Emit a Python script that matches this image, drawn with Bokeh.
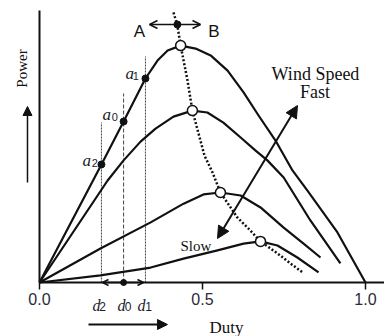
import math
from bokeh.plotting import figure
from bokeh.models import (Range1d, LinearAxis, FixedTicker, NumeralTickFormatter,
                          Arrow, NormalHead, OpenHead)
from bokeh.core.properties import value
from bokeh.embed import file_html
from bokeh.resources import INLINE

# ---------------- data ----------------
x_ticks = [0.0, 0.5, 1.0]

# power curves (duty, power) for four wind speeds, fast -> slow
fast_duty = [0.0, 0.095, 0.190, 0.258, 0.325, 0.362, 0.393, 0.433, 0.479, 0.525,
             0.577, 0.626, 0.672, 0.724, 0.776, 0.822, 0.914, 1.0]
fast_power = [0.0, 0.217, 0.434, 0.592, 0.750, 0.816, 0.853, 0.871, 0.860, 0.835,
              0.779, 0.699, 0.614, 0.522, 0.412, 0.338, 0.184, 0.0]

mid1_duty = [0.0, 0.209, 0.258, 0.310, 0.356, 0.411, 0.469, 0.515, 0.564, 0.617,
             0.663, 0.699, 0.749, 0.831, 0.923]
mid1_power = [0.0, 0.375, 0.449, 0.518, 0.566, 0.610, 0.632, 0.625, 0.588, 0.533,
              0.485, 0.449, 0.386, 0.228, 0.070]

mid2_duty = [0.0, 0.187, 0.341, 0.442, 0.503, 0.555, 0.617, 0.678, 0.749, 0.810, 0.862]
mid2_power = [0.0, 0.125, 0.221, 0.290, 0.324, 0.331, 0.320, 0.276, 0.202, 0.143, 0.092]

slow_duty = [0.0, 0.187, 0.341, 0.442, 0.546, 0.626, 0.678, 0.730, 0.791, 0.856]
slow_power = [0.0, 0.026, 0.055, 0.088, 0.118, 0.143, 0.151, 0.136, 0.092, 0.037]

# maximum power points
mpp_duty = [0.433, 0.469, 0.555, 0.678]
mpp_power = [0.871, 0.632, 0.331, 0.151]

# maximum power point locus (dotted)
locus_duty = [0.411, 0.423, 0.433, 0.454, 0.469, 0.506, 0.531, 0.555, 0.607,
              0.647, 0.678, 0.730, 0.770, 0.807]
locus_power = [0.993, 0.945, 0.871, 0.743, 0.632, 0.467, 0.404, 0.331, 0.239,
               0.191, 0.151, 0.107, 0.070, 0.037]

# operating points a2, a0, a1 at duties d2, d0, d1
op_names = ["2", "0", "1"]
op_duty = [0.190, 0.258, 0.325]
op_power = [0.434, 0.592, 0.750]
guide_top = [0.588, 0.695, 0.831]

# ---------------- figure ----------------
W, H = 384, 336
p = figure(width=W, height=H, output_backend="svg", toolbar_location=None,
           x_range=Range1d(-0.1196, 1.0583), y_range=Range1d(-0.1985, 1.0368),
           x_axis_type=None, y_axis_type=None, min_border=0,
           outline_line_color=None, background_fill_color="white")

INK = "#111111"
LBL = "#1c1c2c"
SERIF = value("Liberation Serif")
SANS = value("Liberation Sans")

xaxis = LinearAxis(fixed_location=0, bounds=(0, 1.0583),
                   ticker=FixedTicker(ticks=x_ticks),
                   formatter=NumeralTickFormatter(format="0.0"))
xaxis.axis_line_width = 2
xaxis.axis_line_color = INK
xaxis.major_tick_out = 7
xaxis.major_tick_in = 0
xaxis.major_tick_line_width = 1.5
xaxis.major_tick_line_color = INK
xaxis.minor_tick_line_color = None
xaxis.major_label_text_font = "Liberation Sans"
xaxis.major_label_text_font_size = "16px"
xaxis.major_label_text_color = "#2a2a3a"
xaxis.major_label_standoff = 3
p.add_layout(xaxis, "below")

yaxis = LinearAxis(fixed_location=0, bounds=(0, 1.0),
                   ticker=FixedTicker(ticks=[]))
yaxis.axis_line_width = 2
yaxis.axis_line_color = INK
yaxis.major_tick_line_color = None
yaxis.minor_tick_line_color = None
yaxis.major_label_text_font_size = "0px"
p.add_layout(yaxis, "left")

# guide lines at d2, d0, d1
dashes = ["2 1", "4 2", "2 1"]
for d, top, dash in zip(op_duty, guide_top, dashes):
    p.segment(x0=[d], y0=[0], x1=[d], y1=[top], line_color="#444444",
              line_width=1, line_dash=dash)

# power curves
for xs, ys in [(fast_duty, fast_power), (mid1_duty, mid1_power),
               (mid2_duty, mid2_power), (slow_duty, slow_power)]:
    p.line(xs, ys, line_color=INK, line_width=2.2, line_join="round")

# MPP locus
p.line(locus_duty, locus_power, line_color=INK, line_width=2.5, line_dash="2 2")

# operating points
p.scatter(op_duty, op_power, size=7, marker="circle", fill_color=INK, line_color=INK)
# MPP markers
p.scatter(mpp_duty, mpp_power, size=10, marker="circle", fill_color="white",
          line_color=INK, line_width=1.5)

# A <-> B arrow on the locus
ab_y = 0.9485
p.add_layout(Arrow(start=OpenHead(size=8, line_width=1.5, line_color=INK),
                   end=OpenHead(size=8, line_width=1.5, line_color=INK),
                   x_start=0.3374, y_start=ab_y, x_end=0.4939, y_end=ab_y,
                   line_width=1.5, line_color=INK))
p.scatter([locus_duty[1]], [ab_y], size=7, marker="circle", fill_color=INK, line_color=INK)
p.text(x=[0.3067, 0.5353], y=[0.9228, 0.9228], text=["A", "B"], text_font=SANS,
       text_font_size="17px", text_align="center", text_baseline="alphabetic",
       text_color=INK)

# duty perturbation arrow on axis
p.add_layout(Arrow(start=OpenHead(size=6, line_width=1.5, line_color=INK),
                   end=OpenHead(size=6, line_width=1.5, line_color=INK),
                   x_start=0.1933, y_start=0, x_end=0.319, y_end=0,
                   line_width=1.5, line_color=INK))
p.scatter([op_duty[1]], [0], size=6, marker="circle", fill_color=INK, line_color=INK)

# wind speed arrow
p.add_layout(Arrow(start=NormalHead(size=12, fill_color=INK, line_color=INK),
                   end=NormalHead(size=12, fill_color=INK, line_color=INK),
                   x_start=0.546, y_start=0.1618, x_end=0.7914, y_end=0.6507,
                   line_width=2, line_color=INK))
p.text(x=[0.8466, 0.8451], y=[0.7673, 0.6996], text=["Wind Speed", "Fast"],
       text_font=SERIF, text_font_size="18px", text_align="center",
       text_baseline="alphabetic", text_color=INK)
p.text(x=[0.4325], y=[0.1324], text=["Slow"], text_font=SERIF,
       text_font_size="15px", text_align="left", text_baseline="alphabetic",
       text_color=INK)

# axis titles with arrows
p.text(x=[-0.0537], y=[0.7868], text=["Power"], angle=[math.pi / 2],
       text_font=SERIF, text_font_size="15px", text_align="center",
       text_baseline="middle", text_color=INK)
p.add_layout(Arrow(end=NormalHead(size=9, fill_color=INK, line_color=INK),
                   x_start=-0.0368, y_start=0.3676, x_end=-0.0368, y_end=0.6471,
                   line_width=1.5, line_color=INK))
p.text(x=[0.5736], y=[-0.1640], text=["Duty"], text_font=SERIF,
       text_font_size="17px", text_align="center", text_baseline="alphabetic",
       text_color=INK)
p.add_layout(Arrow(end=NormalHead(size=10, fill_color=INK, line_color=INK),
                   x_start=0.1503, y_start=-0.1544, x_end=0.3926, y_end=-0.1544,
                   line_width=1.8, line_color=INK))

# operating point labels a2, a0, a1
a_x = [0.1319, 0.1933, 0.2638]
a_y = [0.4485, 0.6176, 0.7684]
a_sub_x = [0.1600, 0.2214, 0.2858]
a_sub_y = [v - 0.0074 for v in a_y]
p.text(x=a_x, y=a_y, text=["a"] * 3, text_font=SERIF, text_font_style="italic",
       text_font_size="17px", text_align="left", text_baseline="alphabetic",
       text_color=LBL)
p.text(x=a_sub_x, y=a_sub_y, text=op_names, text_font=SANS, text_font_size="11px",
       text_align="left", text_baseline="alphabetic", text_color=LBL)

# duty labels d2, d0, d1
d_x = [0.1626, 0.2393, 0.3006]
d_sub_x = [0.1831, 0.2613, 0.3242]
d_y = -0.0846
p.text(x=d_x, y=[d_y] * 3, text=["d"] * 3, text_font=SERIF, text_font_style="italic",
       text_font_size="16px", text_align="left", text_baseline="alphabetic",
       text_color=LBL)
p.text(x=d_sub_x, y=[d_y - 0.004] * 3, text=op_names, text_font=SANS,
       text_font_size="12px", text_align="left",
       text_baseline="alphabetic", text_color=LBL)

open("out.html", "w").write(file_html(p, INLINE))
